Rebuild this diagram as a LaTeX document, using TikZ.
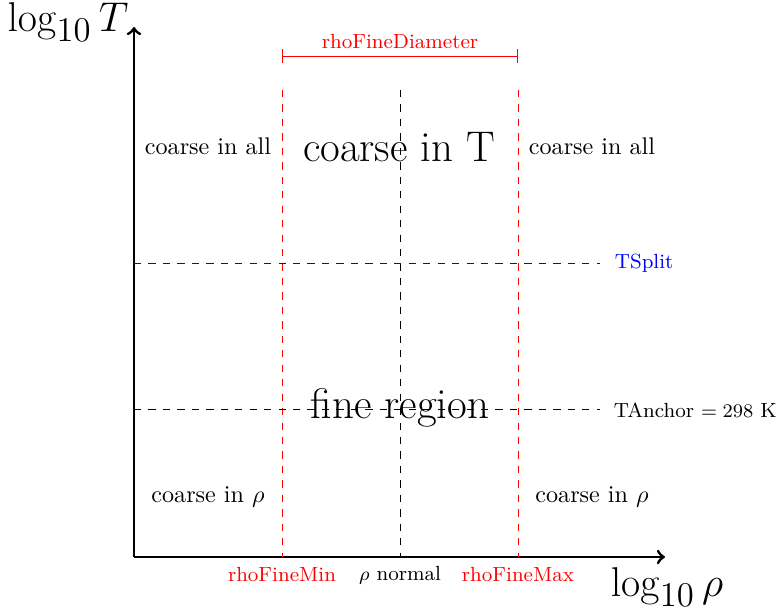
\documentclass[tikz,border=0pt]{standalone}
\usetikzlibrary{arrows}
\begin{document}
\begin{tikzpicture}[x=0.415pt,y=-0.415pt,
  axis/.style={line width=1.2pt,->},
  guide/.style={dashed},
  lbl/.style={font=\fontsize{8.5}{10}\selectfont, inner sep=1pt},
  region/.style={font=\fontsize{10}{12}\selectfont, inner sep=1pt},
  big/.style={font=\fontsize{17.8}{21}\selectfont, inner sep=1pt},
  axlab/.style={font=\fontsize{19}{23}\selectfont, inner sep=1pt}]
\useasboundingbox (0,0) rectangle (784,614);
% axes
\coordinate (O) at (134,557);
\coordinate (Ytop) at (134,27);
\coordinate (Xend) at (665,557);
\draw[axis] (O) -- (Ytop);
\draw[axis] (O) -- (Xend);
% vertical guides
\coordinate (minT) at (282,90);
\coordinate (minB) at (282,557);
\coordinate (normT) at (400,90);
\coordinate (normB) at (400,557);
\coordinate (maxT) at (518,90);
\coordinate (maxB) at (518,557);
\draw[guide,red] (minT) -- (minB);
\draw[guide] (normT) -- (normB);
\draw[guide,red] (maxT) -- (maxB);
% horizontal guides
\coordinate (splitL) at (134,263);
\coordinate (splitR) at (600,263);
\coordinate (anchL) at (134,409);
\coordinate (anchR) at (600,409);
\draw[guide,blue] (splitL) -- (splitR);
\draw[guide] (anchL) -- (anchR);
\node[lbl,blue,anchor=west] (tsplit) at (612,263) {TSplit};
\node[lbl,anchor=west] (tanchor) at (611,410) {TAnchor $=298$ K};
% diameter bar
\coordinate (dL) at (282,56);
\coordinate (dR) at (518,56);
\draw[red,|-|] (dL) -- (dR);
\node[lbl,red] (diam) at (400,42) {rhoFineDiameter};
% axis labels
\node[axlab] (ylab) at (68,22) {$\log_{10} T$};
\node[axlab] (xlab) at (667,587) {$\log_{10} \rho$};
\node[lbl,red] (rmin) at (282,575) {rhoFineMin};
\node[lbl] (rnorm) at (400,575) {$\rho$ normal};
\node[lbl,red] (rmax) at (518,575) {rhoFineMax};
% region labels
\node[region] (cal) at (208,146) {coarse in all};
\node[region] (car) at (592,146) {coarse in all};
\node[big] (cT) at (399,147) {coarse in T};
\node[big] (fine) at (400,408) {fine region};
\node[region] (crl) at (208,497) {coarse in $\rho$};
\node[region] (crr) at (592,497) {coarse in $\rho$};
\end{tikzpicture}
\end{document}
